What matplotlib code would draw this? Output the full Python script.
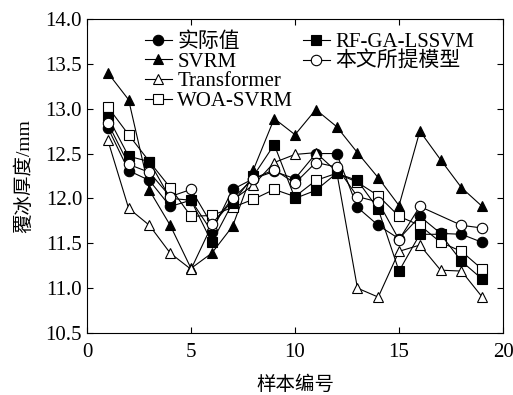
import matplotlib.pyplot as plt

plt.rcParams['font.family'] = ['Liberation Serif', 'Noto Sans CJK SC']
plt.rcParams['font.size'] = 15

samples = list(range(1, 20))
actual = [12.79, 12.31, 12.20, 11.91, 11.98, 11.63, 12.10, 12.22, 12.30, 12.22,
          12.50, 12.50, 11.90, 11.70, 11.55, 11.80, 11.61, 11.60, 11.51]
svrm = [13.40, 13.10, 12.09, 11.70, 11.22, 11.39, 11.69, 12.32, 12.89, 12.71,
        12.99, 12.80, 12.51, 12.23, 11.92, 12.75, 12.43, 12.12, 11.91]
transformer = [12.65, 11.89, 11.70, 11.39, 11.21, 11.70, 11.98, 12.15, 12.40, 12.49,
               12.51, 12.30, 11.00, 10.90, 11.41, 11.48, 11.20, 11.19, 10.90]
woa_svrm = [13.02, 12.71, 12.41, 12.12, 11.80, 11.81, 11.90, 11.99, 12.10, 12.02,
            12.20, 12.28, 12.18, 12.03, 11.80, 11.70, 11.51, 11.41, 11.21]
rf_ga_lssvm = [12.91, 12.47, 12.41, 12.00, 11.98, 11.51, 11.95, 12.25, 12.60, 12.00,
               12.09, 12.28, 12.20, 11.88, 11.19, 11.60, 11.60, 11.30, 11.10]
# proposed model has no point at sample 17
proposed_x = [1, 2, 3, 4, 5, 6, 7, 8, 9, 10, 11, 12, 13, 14, 15, 16, 18, 19]
proposed = [12.84, 12.38, 12.29, 12.02, 12.10, 11.71, 12.00, 12.22, 12.32, 12.17,
            12.40, 12.35, 12.02, 11.96, 11.54, 11.91, 11.70, 11.67]

fig = plt.figure(figsize=(5.13, 3.95), dpi=100)
ax = fig.add_axes([0.1696, 0.157, 0.811, 0.795])

kw = dict(color='black', lw=0.8, ms=7.5, mec='black', mew=0.8)
l1, = ax.plot(samples, actual, marker='o', mfc='black', label='实际值', **kw)
l2, = ax.plot(samples, svrm, marker='^', mfc='black', label='SVRM', **kw)
l3, = ax.plot(samples, transformer, marker='^', mfc='white', label='Transformer', **kw)
l4, = ax.plot(samples, woa_svrm, marker='s', mfc='white', label='WOA-SVRM', **kw)
l5, = ax.plot(samples, rf_ga_lssvm, marker='s', mfc='black', label='RF-GA-LSSVM', **kw)
l6, = ax.plot(proposed_x, proposed, marker='o', mfc='white', label='本文所提模型', **kw)

ax.set_xlim(0, 20)
ax.set_ylim(10.5, 14.0)
ax.set_xticks([0, 5, 10, 15, 20])
ax.set_yticks([10.5, 11.0, 11.5, 12.0, 12.5, 13.0, 13.5, 14.0])
ax.set_yticklabels(['%.1f' % v for v in ax.get_yticks()])
ax.tick_params(direction='in', top=True, right=True, length=4, width=0.8, labelsize=15)
ax.tick_params(axis='x', pad=7)
for s in ax.spines.values():
    s.set_linewidth(0.8)

ax.set_xlabel('样本编号', fontsize=14, labelpad=10)
ax.set_ylabel('覆冰厚度/mm', fontsize=14, labelpad=9)

leg_kw = dict(frameon=False, handlelength=1.3, handletextpad=0.25,
              labelspacing=0.0, borderaxespad=0, borderpad=0, fontsize=15)
leg1 = ax.legend(handles=[l1, l2, l3, l4], loc='upper left',
                 bbox_to_anchor=(0.139, 0.957), **leg_kw)
ax.add_artist(leg1)
ax.legend(handles=[l5, l6], loc='upper left',
          bbox_to_anchor=(0.519, 0.957), **leg_kw)

fig.savefig('out.png', dpi=100)
